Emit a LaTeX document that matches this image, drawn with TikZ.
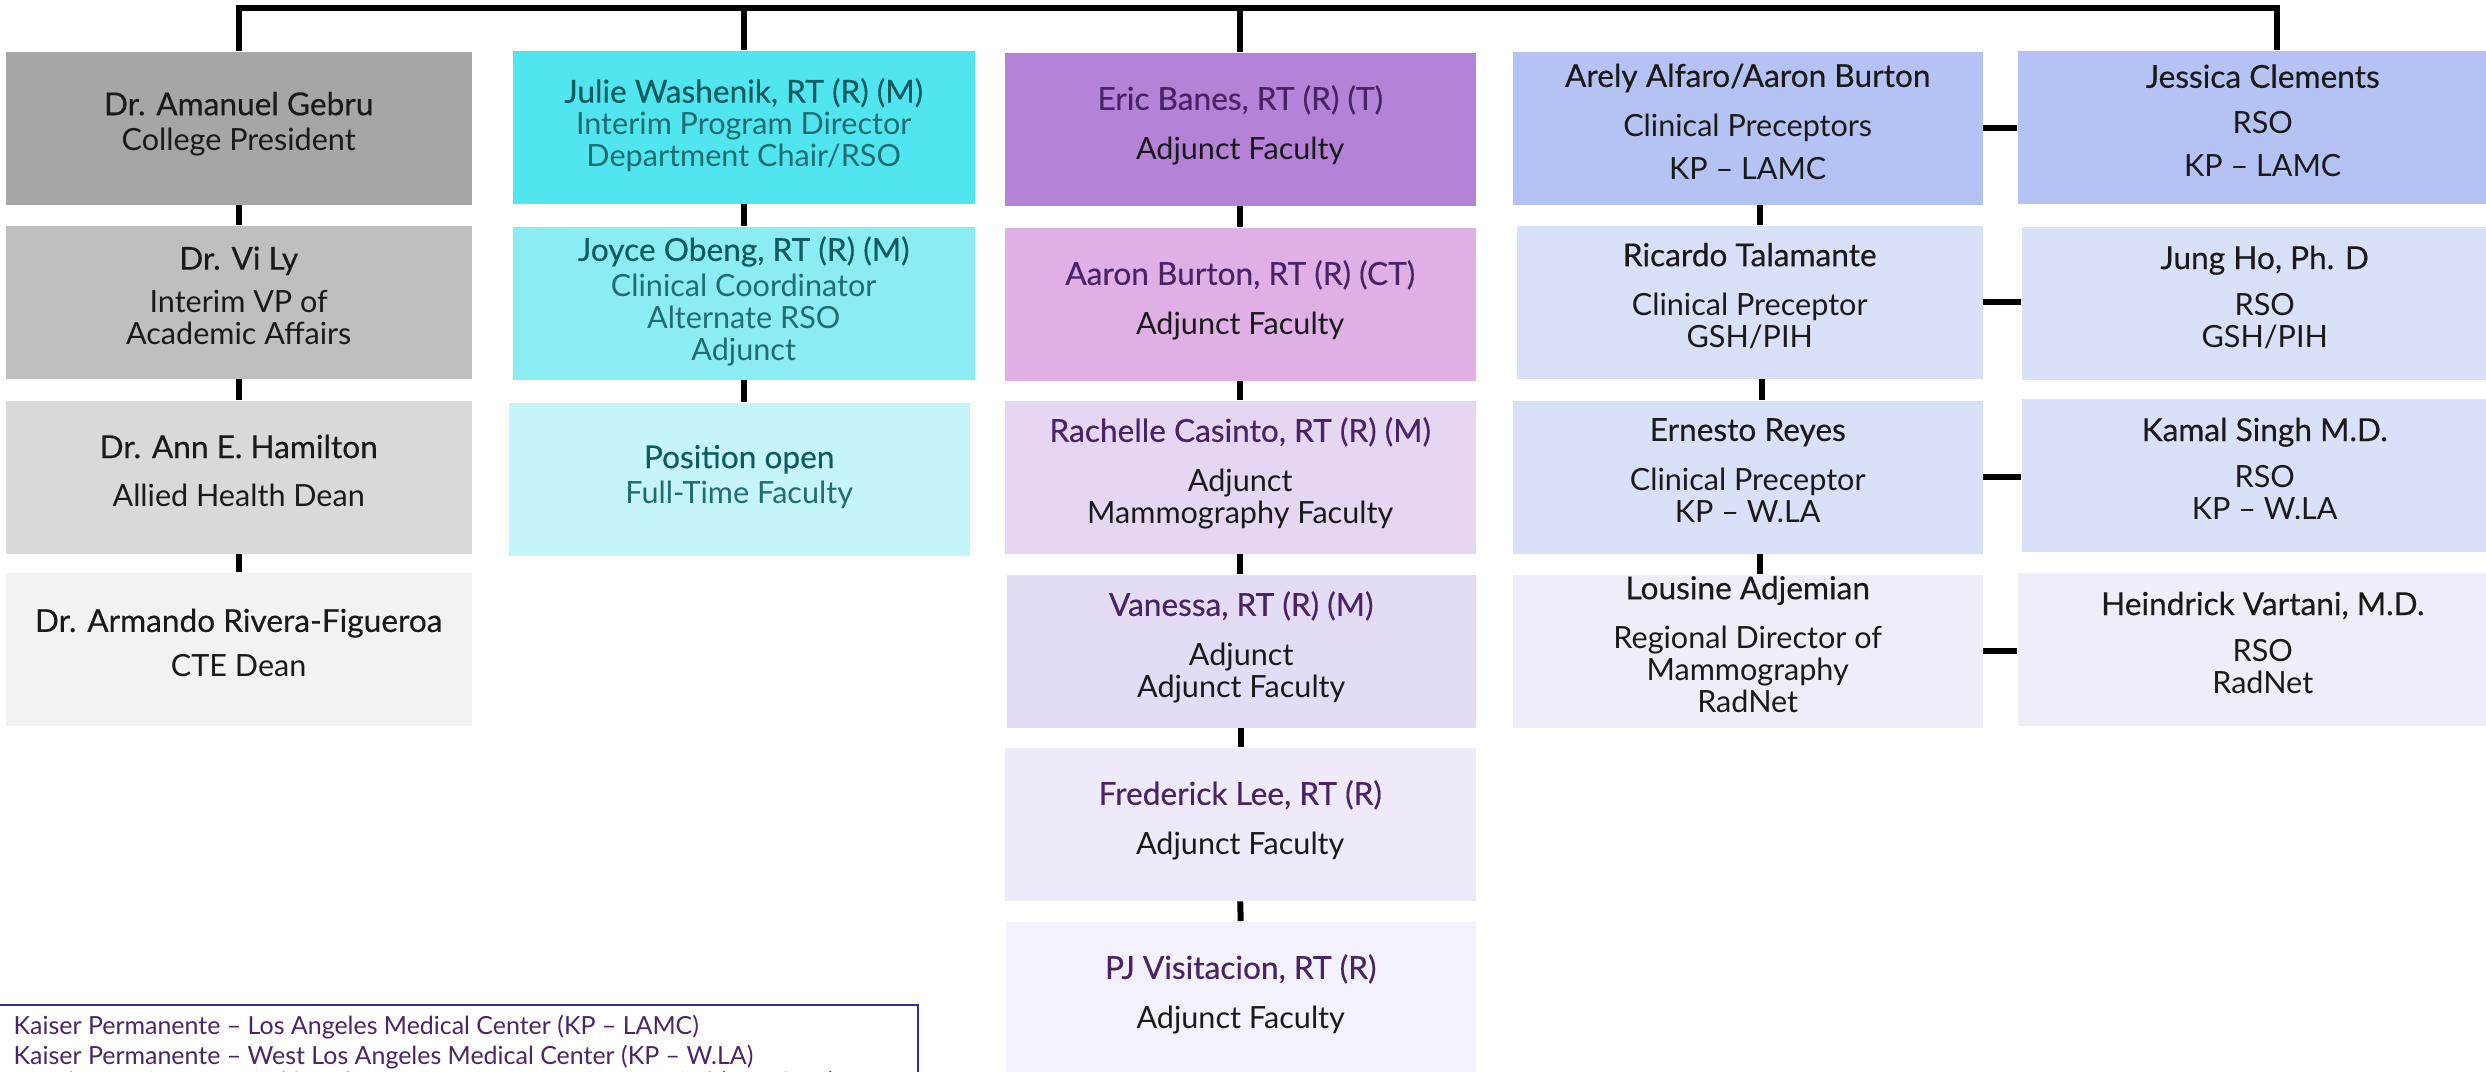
\documentclass[tikz,border=0pt]{standalone}
\usepackage{fontspec}
\setmainfont{Lato}
\newfontfamily\nmfont{Lato}[FakeBold=0.35]
\definecolor{fA}{HTML}{A6A6A6}
\definecolor{fB}{HTML}{BFBFBF}
\definecolor{fC}{HTML}{D9D9D9}
\definecolor{fD}{HTML}{F2F2F2}
\definecolor{cA}{HTML}{51E5F0}
\definecolor{cB}{HTML}{8CECF4}
\definecolor{cC}{HTML}{C5F5FA}
\definecolor{pA}{HTML}{B482D6}
\definecolor{pB}{HTML}{DFAFE6}
\definecolor{pC}{HTML}{E5D6F2}
\definecolor{pD}{HTML}{E3DCF4}
\definecolor{pE}{HTML}{EFEAFA}
\definecolor{pF}{HTML}{F3F2FC}
\definecolor{bA}{HTML}{B4C3F3}
\definecolor{bB}{HTML}{D9E1F9}
\definecolor{bC}{HTML}{EEEEF8}
\definecolor{txtblack}{HTML}{1A1A1A}
\definecolor{tealnm}{HTML}{0E5B60}
\definecolor{tealsub}{HTML}{1F6D71}
\definecolor{purpnm}{HTML}{4A2367}
\definecolor{legnavy}{HTML}{2E3192}
\definecolor{legtxt}{HTML}{4B2469}
\tikzset{
  obox/.style={rectangle, draw=none, inner sep=0pt, minimum height=1.53cm, anchor=north west},
  otxt/.style={align=center, inner sep=0pt, font=\fontsize{8.7}{9.1}\selectfont},
  conn/.style={line width=1.7pt, draw=black},
}
\newcommand\gn[1]{{\nmfont\fontsize{9.0}{9.1}\selectfont #1}}
\newcommand\tn[1]{{\nmfont\fontsize{9.0}{9.1}\selectfont\color{tealnm}#1}}
\newcommand\pn[1]{{\nmfont\fontsize{9.0}{9.1}\selectfont\color{purpnm}#1}}
% id, x, y, width, fill, text colour, text, yshift
\newcommand\orgbox[8]{%
  \node[obox, fill=#5, minimum width=#4cm] (#1) at (#2,-#3) {};
  \node[otxt, text=#6] (#1t) at ([yshift=#8cm]#1.center) {\strut #7\strut};}
\begin{document}
\begin{tikzpicture}
\useasboundingbox (0,0) rectangle (24.86,-10.71);
\clip (0,0) rectangle (24.86,-10.71);
% column 1
\orgbox{g1}{0.05}{0.51}{4.66}{fA}{txtblack}{\gn{Dr. Amanuel Gebru}\\ College President}{0.02}
\orgbox{g2}{0.05}{2.25}{4.66}{fB}{txtblack}{\gn{Dr. Vi Ly}\\[3pt] Interim VP of\\ Academic Affairs}{0.02}
\orgbox{g3}{0.05}{4.00}{4.66}{fC}{txtblack}{\gn{Dr. Ann E. Hamilton}\\[3.5pt] Allied Health Dean}{0.02}
\orgbox{g4}{0.05}{5.72}{4.66}{fD}{txtblack}{\gn{Dr. Armando Rivera-Figueroa}\\[3.5pt] CTE Dean}{0.02}
% column 2
\orgbox{t1}{5.12}{0.50}{4.62}{cA}{tealsub}{\tn{Julie Washenik, RT (R) (M)}\\ Interim Program Director\\ Department Chair/RSO}{0}
\orgbox{t2}{5.12}{2.26}{4.62}{cB}{tealsub}{\tn{Joyce Obeng, RT (R) (M)}\\ Clinical Coordinator\\ Alternate RSO\\ Adjunct}{0}
\orgbox{t3}{5.08}{4.02}{4.61}{cC}{tealsub}{\tn{Position open}\\ Full-Time Faculty}{0}
% column 3
\orgbox{p1}{10.04}{0.52}{4.71}{pA}{txtblack}{\pn{Eric Banes, RT (R) (T)}\\[4pt] Adjunct Faculty}{0.02}
\orgbox{p2}{10.04}{2.27}{4.71}{pB}{txtblack}{\pn{Aaron Burton, RT (R) (CT)}\\[4pt] Adjunct Faculty}{0.02}
\orgbox{p3}{10.04}{4.00}{4.71}{pC}{txtblack}{\pn{Rachelle Casinto, RT (R) (M)}\\[4pt] Adjunct\\ Mammography Faculty}{0.02}
\orgbox{p4}{10.06}{5.74}{4.69}{pD}{txtblack}{\pn{Vanessa, RT (R) (M)}\\[4pt] Adjunct\\ Adjunct Faculty}{0.02}
\orgbox{p5}{10.04}{7.47}{4.71}{pE}{txtblack}{\pn{Frederick Lee, RT (R)}\\[4pt] Adjunct Faculty}{0.02}
\orgbox{p6}{10.05}{9.21}{4.70}{pF}{txtblack}{\pn{PJ Visitacion, RT (R)}\\[4pt] Adjunct Faculty}{0.02}
% column 4
\orgbox{c1}{15.12}{0.51}{4.70}{bA}{txtblack}{\gn{Arely Alfaro/Aaron Burton}\\[4pt] Clinical Preceptors\\[3pt] KP – LAMC}{0.02}
\orgbox{c2}{15.16}{2.25}{4.66}{bB}{txtblack}{\gn{Ricardo Talamante}\\[4pt] Clinical Preceptor\\ GSH/PIH}{0.02}
\orgbox{c3}{15.12}{4.00}{4.70}{bB}{txtblack}{\gn{Ernesto Reyes}\\[4pt] Clinical Preceptor\\ KP – W.LA}{0.02}
\orgbox{c4}{15.12}{5.74}{4.70}{bC}{txtblack}{\gn{Lousine Adjemian}\\[4pt] Regional Director of\\ Mammography\\ RadNet}{0.02}
% column 5
\orgbox{r1}{20.17}{0.50}{4.90}{bA}{txtblack}{\gn{Jessica Clements}\\[4pt] RSO\\[3pt] KP – LAMC}{0.02}
\orgbox{r2}{20.21}{2.26}{4.86}{bB}{txtblack}{\gn{Jung Ho, Ph. D}\\[4pt] RSO\\ GSH/PIH}{0.02}
\orgbox{r3}{20.21}{3.98}{4.86}{bB}{txtblack}{\gn{Kamal Singh M.D.}\\[4pt] RSO\\ KP – W.LA}{0.02}
\orgbox{r4}{20.17}{5.72}{4.90}{bC}{txtblack}{\gn{Heindrick Vartani, M.D.}\\[4pt] RSO\\ RadNet}{0.02}
% connectors
\coordinate (topy) at (0,-0.08);
\coordinate (r1c) at ([xshift=0.14cm]r1.north);
\draw[conn] (g1.north) -- (g1.north |- topy) -- (r1c |- topy) -- (r1c);
\draw[conn] (t1.north) -- (t1.north |- topy);
\draw[conn] (p1.north) -- (p1.north |- topy);
\draw[conn] (g1.south) -- (g2.north);
\draw[conn] (g2.south) -- (g3.north);
\draw[conn] (g3.south) -- (g4.north);
\draw[conn] (t1.south) -- (t2.north);
\draw[conn] (t2.south) -- (t2.south |- t3.north);
\draw[conn] (p1.south) -- (p2.north);
\draw[conn] (p2.south) -- (p3.north);
\draw[conn] (p3.south) -- (p3.south |- p4.north);
\draw[conn] (p4.south) -- (p4.south |- p5.north);
\draw[conn] (p5.south) -- (p6.north);
\draw[conn] ([xshift=0.12cm]c1.south) -- ([xshift=0.12cm]c1.south |- c2.north);
\draw[conn] ([xshift=0.12cm]c2.south) -- ([xshift=0.12cm]c2.south |- c3.north);
\draw[conn] ([xshift=0.12cm]c3.south) -- ([xshift=0.12cm]c3.south |- c4.north);
\draw[conn] (c1.east) -- (c1.east -| r1.west);
\draw[conn] (c2.east) -- (c2.east -| r2.west);
\draw[conn] (c3.east) -- (c3.east -| r3.west);
\draw[conn] (c4.east) -- (c4.east -| r4.west);
% legend
\node[draw=legnavy, line width=0.7pt, fill=white, inner sep=0pt, minimum width=9.22cm, minimum height=1.2cm, anchor=north west] (legbox) at (-0.05,-10.04) {};
\node[align=left, inner sep=0pt, anchor=north west, text=legtxt, font=\fontsize{7.1}{7.3}\selectfont] (legtext) at (0.13,-10.14)
  {\strut Kaiser Permanente – Los Angeles Medical Center (KP – LAMC)\\
   Kaiser Permanente – West Los Angeles Medical Center (KP – W.LA)\\
   Good Samaritan Hospital/Presbyterian Intercommunity Hospital (GSH/PIH)};
\end{tikzpicture}
\end{document}
